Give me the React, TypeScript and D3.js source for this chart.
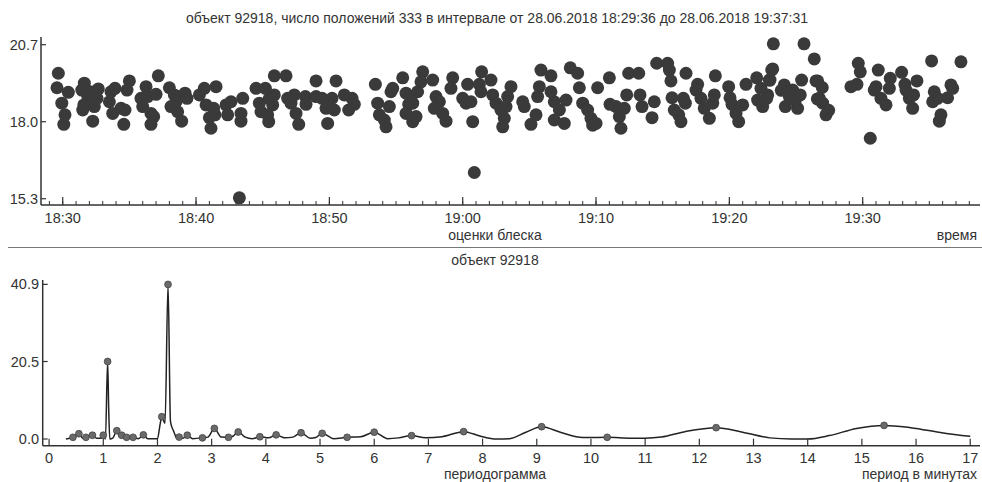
import React from "react";
import * as d3 from "d3";

// Brightness estimates: time in minutes after 18:00 on 28.06.2018, and magnitude
const obsMinutes: number[] = [
  29.67, 29.57, 29.93, 30.17, 30.08, 30.42, 31.62, 31.43, 31.58, 31.5, 31.88, 32.07, 32.25, 32.37, 32.67, 32.57,
  33.62, 33.5, 33.75, 33.92, 34.37, 34.67, 34.58, 35.0, 34.82, 35.87, 36.25, 36.37, 36.0, 36.62, 36.82, 36.62,
  37.0, 37.17, 38.0, 38.37, 38.12, 38.5, 38.62, 38.92, 39.17, 39.32, 40.25, 40.62, 40.75, 41.0, 41.12, 41.32,
  41.5, 41.42, 42.25, 42.37, 43.25, 42.62, 43.37, 43.5, 43.37, 44.5, 44.75, 44.87, 45.2, 45.5, 45.37, 45.45,
  45.75, 45.87, 45.87, 46.75, 46.87, 47.12, 47.37, 47.5, 47.7, 48.2, 48.25, 49.0, 49.0, 49.45, 49.75, 49.87,
  50.2, 50.37, 50.5, 51.12, 51.45, 51.7, 51.87, 53.45, 53.62, 53.75, 54.12, 54.25, 54.5, 54.62, 54.75, 55.5,
  55.75, 55.95, 55.75, 56.25, 56.12, 57.0, 56.87, 57.75, 56.62, 56.25, 56.5, 58.0, 57.87, 58.25, 58.5, 58.75,
  59.25, 59.12, 60.0, 60.25, 60.37, 60.62, 60.75, 60.87, 61.25, 61.42, 61.37, 62.12, 62.25, 62.5, 62.87, 63.12,
  63.0, 63.37, 63.62, 63.25, 64.5, 64.62, 65.12, 65.5, 65.75, 65.62, 65.87, 66.62, 66.62, 66.87, 66.87, 67.25,
  67.62, 67.75, 68.07, 68.62, 68.75, 69.0, 69.37, 69.62, 69.75, 70.12, 70.0, 71.0, 71.05, 71.5, 71.75, 71.87,
  72.12, 72.3, 72.45, 73.2, 73.3, 73.45, 74.2, 74.37, 74.55, 75.37, 75.5, 75.62, 75.7, 75.87, 76.2, 76.37,
  76.55, 76.7, 76.75, 77.62, 77.5, 77.87, 78.12, 78.5, 78.75, 78.87, 78.95, 79.95, 80.05, 80.2, 80.5, 80.7,
  81.0, 81.25, 82.05, 82.12, 82.37, 82.5, 82.87, 83.0, 83.25, 83.3, 84.12, 84.2, 84.75, 84.5, 85.12, 85.42,
  85.6, 86.37, 86.5, 86.75, 87.0, 87.25, 89.67, 89.82, 89.12, 89.57, 90.57, 91.17, 91.0, 90.87, 91.37, 91.75,
  92.07, 92.0, 92.92, 93.17, 93.25, 93.5, 93.75, 93.82, 94.07, 95.17, 95.37, 95.25, 95.62, 95.87, 95.75, 96.37,
  96.62, 96.75, 97.37, 83.05, 83.18, 82.8, 83.9, 84.37, 84.95, 85.32, 86.62, 86.97, 87.45, 86.6,
];

const obsMagnitudes: number[] = [
  19.7, 19.19, 18.65, 18.24, 17.91, 19.03, 19.35, 19.11, 18.59, 18.41, 18.88, 19.05, 18.02, 18.53, 19.15, 18.82,
  19.05, 18.7, 18.29, 19.17, 18.47, 18.41, 17.91, 19.43, 19.11, 18.82, 19.23, 18.88, 18.53, 18.29, 18.18, 17.91,
  18.96, 19.61, 19.19, 18.94, 18.53, 18.7, 18.35, 18.02, 19.0, 18.82, 18.94, 19.17, 18.59, 18.14, 17.77, 18.47,
  19.23, 18.24, 18.59, 18.24, 15.33, 18.7, 18.02, 18.82, 18.29, 19.17, 18.65, 18.35, 19.17, 18.82, 18.24, 18.0,
  18.59, 18.94, 19.61, 19.61, 18.82, 18.65, 18.94, 18.29, 17.91, 18.88, 18.61, 19.43, 18.88, 18.82, 18.47, 17.94,
  18.82, 18.41, 19.43, 18.94, 18.41, 18.82, 18.61, 19.31, 18.65, 18.24, 18.06, 17.82, 18.53, 19.05, 19.17, 19.54,
  19.0, 18.61, 18.29, 18.0, 18.88, 19.75, 19.4, 19.46, 19.05, 18.65, 18.18, 18.88, 18.47, 18.7, 18.29, 18.02,
  19.54, 19.17, 18.82, 18.65, 19.31, 18.7, 18.0, 16.22, 19.31, 19.75, 19.05, 19.46, 18.94, 18.65, 18.41, 18.12,
  17.82, 18.88, 19.23, 18.53, 18.7, 18.53, 17.91, 18.24, 19.23, 18.88, 19.81, 19.61, 19.05, 18.7, 18.06, 18.41,
  17.94, 18.76, 19.89, 19.7, 19.19, 18.65, 18.41, 18.12, 17.88, 19.19, 17.94, 19.54, 18.61, 18.53, 18.18, 17.77,
  18.47, 18.94, 19.7, 19.7, 18.94, 18.53, 18.14, 18.7, 20.05, 20.05, 19.81, 19.43, 18.84, 18.41, 18.24, 18.0,
  18.82, 18.65, 19.7, 19.31, 19.11, 18.82, 18.47, 18.12, 18.65, 18.94, 19.61, 19.23, 18.84, 18.61, 18.29, 18.0,
  18.59, 19.31, 19.54, 18.76, 19.17, 18.53, 18.94, 19.46, 19.85, 20.73, 19.29, 18.53, 19.11, 18.88, 18.47, 19.46,
  20.73, 20.2, 19.43, 18.82, 18.65, 18.24, 20.05, 19.75, 19.23, 19.31, 17.42, 19.81, 19.23, 19.11, 18.82, 18.59,
  19.52, 19.17, 19.73, 19.31, 19.11, 18.82, 18.47, 18.94, 19.43, 20.13, 19.05, 18.7, 18.82, 18.24, 18.02, 18.84,
  19.29, 19.17, 20.1, 19.46, 19.81, 18.82, 19.1, 19.05, 18.75, 18.94, 19.43, 19.2, 18.4, 18.8,
];

const magTicks: number[] = [15.3, 18.0, 20.7];

// Periodogram: period in minutes and spectral power
const periods: number[] = [
  0.31, 0.44, 0.55, 0.62, 0.68, 0.8, 0.88, 0.96, 1.0, 1.04, 1.08, 1.1, 1.12, 1.18, 1.25, 1.3, 1.34, 1.4, 1.43,
  1.5, 1.55, 1.65, 1.74, 1.82, 2.0, 2.05, 2.08, 2.14, 2.195, 2.24, 2.3, 2.36, 2.4, 2.47, 2.55, 2.65, 2.83, 2.93,
  3.05, 3.18, 3.31, 3.4, 3.49, 3.62, 3.75, 3.89, 4.05, 4.19, 4.35, 4.5, 4.65, 4.82, 4.92, 5.04, 5.25, 5.5, 5.75,
  6.0, 6.25, 6.45, 6.69, 6.95, 7.25, 7.65, 7.95, 8.25, 8.5, 8.8, 9.09, 9.45, 9.85, 10.3, 10.75, 11.0, 11.3,
  11.75, 12.31, 12.8, 13.3, 13.7, 14.0, 14.4, 14.9, 15.41, 15.9, 16.5, 17.0,
];

const power: number[] = [
  0.0, 0.45, 1.4, 0.2, 0.45, 1.0, 0.2, 0.2, 1.0, 0.0, 20.5, 8.0, 0.0, 0.3, 2.2, 0.6, 1.0, 0.3, 0.45,
  0.2, 0.45, 0.1, 1.1, 0.1, 0.1, 4.0, 5.9, 4.2, 40.9, 4.6, 2.0, 0.2, 0.5, 0.2, 1.0, 0.1, 0.3, 0.5,
  2.8, 0.5, 0.45, 0.8, 1.85, 0.5, 0.1, 0.6, 0.3, 1.1, 0.3, 0.5, 1.65, 0.2, 0.4, 1.5, 0.1, 0.45, 0.6,
  1.8, 0.1, 0.3, 0.9, 0.3, 0.6, 1.95, 0.8, 0.0, 0.1, 1.8, 3.25, 1.7, 0.4, 0.45, 0.2, 0.2, 0.5,
  2.0, 3.0, 1.8, 0.3, 0.0, 0.0, 0.9, 2.8, 3.6, 3.0, 1.6, 0.7,
];

// Periods at which the spectrum was sampled and marked with a dot
const markedPeriods: number[] = [
  0.44, 0.55, 0.68, 0.8, 1.0, 1.08, 1.25, 1.34, 1.43, 1.55, 1.74, 2.08, 2.195, 2.4, 2.55, 2.83, 3.05, 3.31,
  3.49, 3.89, 4.19, 4.65, 5.04, 5.5, 6.0, 6.69, 7.65, 9.09, 10.3, 12.31, 15.41,
];

const powerTicks: number[] = [0, 20.5, 40.9];
const periodTicks: number[] = d3.range(0, 18);

const W = 982;
const H = 482;
const FONT = "'Liberation Sans', Arial, sans-serif";
const INK = "#333";
const DOT = "#3a3a3a";

const baseDate = new Date(2018, 5, 28, 18, 0, 0);
const toDate = (m: number) => new Date(baseDate.getTime() + m * 60000);

export default function App() {
  // upper panel scales
  const x1 = d3
    .scaleTime()
    .domain([toDate(28.37), toDate(98.8)])
    .range([41, 980]);
  const y1 = d3.scaleLinear().domain([15.08, 20.97]).range([205, 37]);
  const majorTimes = x1.ticks(d3.timeMinute.every(10) as d3.TimeInterval);
  const minorTimes = x1.ticks(d3.timeMinute.every(1) as d3.TimeInterval);
  const fmtTime = d3.timeFormat("%H:%M");

  // lower panel scales
  const x2 = d3.scaleLinear().domain([-0.118, 17.18]).range([42.7, 980]);
  const y2 = d3.scaleLinear().domain([-1.77, 42.06]).range([445.7, 280]);
  const curve = periods.map((p, i) => [p, power[i]] as [number, number]);
  const line = d3
    .line<[number, number]>()
    .x((d) => x2(d[0]))
    .y((d) => y2(d[1]))
    .curve(d3.curveMonotoneX);
  const marks = markedPeriods.map((p) => curve.find((c) => c[0] === p)!).filter(Boolean);

  const textStyle = { fontFamily: FONT, fill: INK } as const;

  return (
    <svg
      width={W}
      height={H}
      viewBox={`0 0 ${W} ${H}`}
      style={{ position: "absolute", left: 0, top: 0, background: "#fff" }}
    >
      <rect x={0} y={0} width={W} height={H} fill="#fff" />
      <text x={497} y={23} textAnchor="middle" fontSize={14} {...textStyle}>
        объект 92918,  число положений 333  в интервале от 28.06.2018 18:29:36 до 28.06.2018 19:37:31
      </text>

      {/* upper panel: brightness estimates over time */}
      <g>
        {obsMinutes.map((m, i) => (
          <circle key={i} cx={x1(toDate(m))} cy={y1(obsMagnitudes[i])} r={6.5} fill={DOT} />
        ))}
        <line x1={41} x2={41} y1={37} y2={205} stroke={INK} strokeWidth={1.5} />
        <line x1={41} x2={980} y1={205} y2={205} stroke={INK} strokeWidth={1.5} />
        {magTicks.map((v) => (
          <g key={v}>
            <line x1={41} x2={46} y1={y1(v)} y2={y1(v)} stroke={INK} strokeWidth={1.2} />
            <text x={38} y={y1(v) + 5} textAnchor="end" fontSize={14.5} {...textStyle}>
              {v.toFixed(1)}
            </text>
          </g>
        ))}
        {minorTimes.map((t, i) => (
          <line key={i} x1={x1(t)} x2={x1(t)} y1={205} y2={201} stroke={INK} strokeWidth={1} />
        ))}
        {majorTimes.map((t, i) => (
          <g key={i}>
            <line x1={x1(t)} x2={x1(t)} y1={205} y2={197} stroke={INK} strokeWidth={1.2} />
            <text x={x1(t)} y={223} textAnchor="middle" fontSize={14.5} {...textStyle}>
              {fmtTime(t)}
            </text>
          </g>
        ))}
        <text x={495} y={240} textAnchor="middle" fontSize={14} {...textStyle}>
          оценки блеска
        </text>
        <text x={977} y={240} textAnchor="end" fontSize={14} {...textStyle}>
          время
        </text>
      </g>

      <line x1={8} x2={982} y1={247.5} y2={247.5} stroke="#777" strokeWidth={1.2} />

      {/* lower panel: periodogram */}
      <g>
        <text x={495} y={265} textAnchor="middle" fontSize={14} {...textStyle}>
          объект 92918
        </text>
        <path d={line(curve) ?? ""} fill="none" stroke="#222" strokeWidth={1.5} strokeLinejoin="round" />
        {marks.map((d, i) => (
          <circle key={i} cx={x2(d[0])} cy={y2(d[1])} r={3.4} fill="#6a6a6a" stroke="#444" strokeWidth={0.8} />
        ))}
        <line x1={42.7} x2={42.7} y1={280} y2={445.7} stroke={INK} strokeWidth={1.5} />
        <line x1={42.7} x2={980} y1={445.7} y2={445.7} stroke={INK} strokeWidth={1.5} />
        {powerTicks.map((v) => (
          <g key={v}>
            <line x1={42.7} x2={47.7} y1={y2(v)} y2={y2(v)} stroke={INK} strokeWidth={1.2} />
            <text x={39} y={y2(v) + 5} textAnchor="end" fontSize={14.5} {...textStyle}>
              {v.toFixed(1)}
            </text>
          </g>
        ))}
        {periodTicks.map((p) => (
          <g key={p}>
            <line x1={x2(p)} x2={x2(p)} y1={445.7} y2={438.7} stroke={INK} strokeWidth={1.2} />
            <text x={x2(p)} y={463} textAnchor="middle" fontSize={14.5} {...textStyle}>
              {p}
            </text>
          </g>
        ))}
        <text x={495} y={479} textAnchor="middle" fontSize={14} {...textStyle}>
          периодограмма
        </text>
        <text x={977} y={479} textAnchor="end" fontSize={14} {...textStyle}>
          период в минутах
        </text>
      </g>
    </svg>
  );
}
